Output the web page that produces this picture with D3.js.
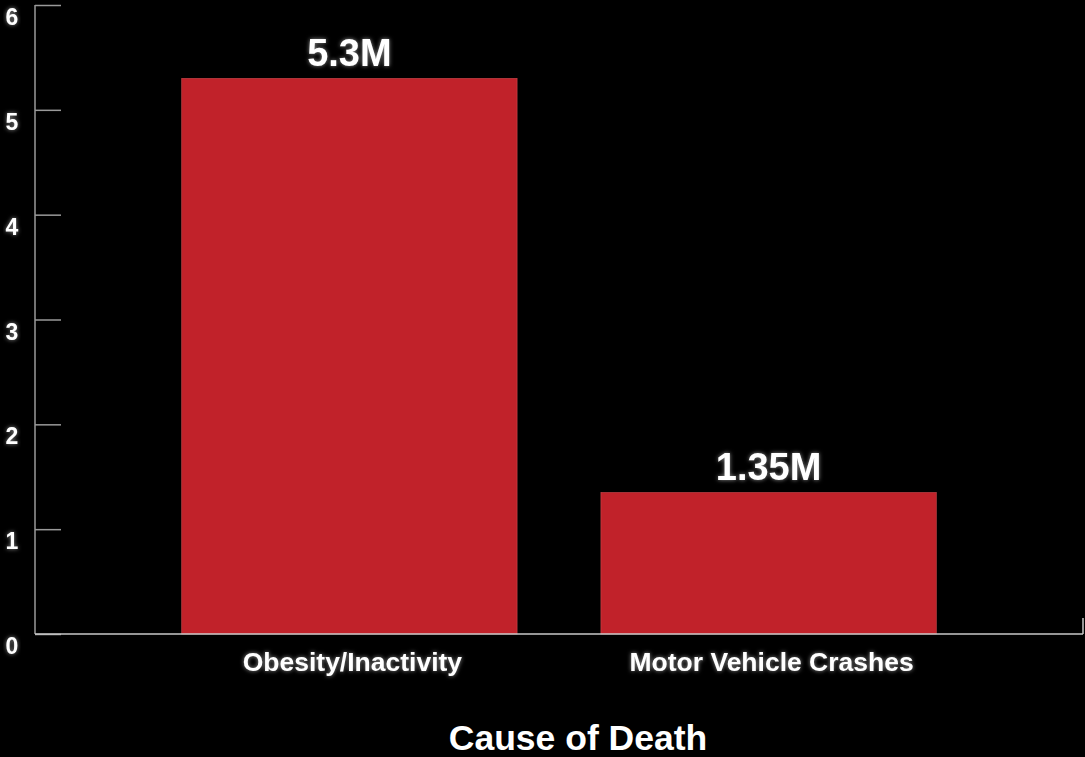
<!DOCTYPE html>
<html><head><meta charset="utf-8">
<script src="https://cdn.jsdelivr.net/npm/d3@7"></script>
<style>
html,body{margin:0;padding:0;background:#000;}
svg{display:block;}
text{font-family:"Liberation Sans",Arial,sans-serif;font-weight:bold;fill:#fff;}
</style></head><body>
<svg id="c" width="1085" height="757"></svg>
<script>
const categories = ["Obesity/Inactivity", "Motor Vehicle Crashes"];
const values = [5.3, 1.35];
const valueLabels = ["5.3M", "1.35M"];
const yTicks = [0, 1, 2, 3, 4, 5, 6];
const xTitle = "Cause of Death";

const svg = d3.select("#c");
const defs = svg.append("defs");
const f = defs.append("filter").attr("id","glow").attr("x","-20%").attr("y","-40%").attr("width","140%").attr("height","180%");
f.append("feGaussianBlur").attr("in","SourceAlpha").attr("stdDeviation",2).attr("result","b");
f.append("feFlood").attr("flood-color","#fff").attr("flood-opacity",0.55);
f.append("feComposite").attr("in2","b").attr("operator","in").attr("result","g");
const m = f.append("feMerge");
m.append("feMergeNode").attr("in","g");
m.append("feMergeNode").attr("in","SourceGraphic");

const x0 = 35, x1 = 1083, yTop = 5, yBot = 634;
const x = d3.scaleBand().domain(categories).range([x0, x1]).paddingInner(0.2).paddingOuter(0.35);
const y = d3.scaleLinear().domain([0, 6]).range([yBot, yTop]);

// bars
svg.append("g").selectAll("rect").data(categories).join("rect")
  .attr("x", d => x(d)).attr("width", x.bandwidth())
  .attr("y", (d,i) => y(values[i])).attr("height", (d,i) => y(0) - y(values[i]))
  .attr("fill", "#c1222a").attr("stroke","#d04a4f").attr("stroke-width",0.6);

// y axis
const gy = svg.append("g").attr("transform", `translate(${x0},0)`)
  .call(d3.axisRight(y).tickValues(yTicks).tickSize(26).tickFormat(""));
gy.select(".domain").remove();
gy.selectAll("line").attr("stroke","#9a9a9a").attr("stroke-width",1.5);
svg.append("line").attr("x1",x0).attr("x2",x0).attr("y1",y(6)).attr("y2",y(0)).attr("stroke","#9a9a9a").attr("stroke-width",1.5);
svg.append("g").selectAll("text").data(yTicks).join("text")
  .attr("x", 12).attr("y", d => y(d) + 20)
  .attr("text-anchor","middle").attr("font-size",23).attr("filter","url(#glow)")
  .text(d => d);

// x axis
svg.append("line").attr("x1",x0).attr("x2",x1).attr("y1",yBot).attr("y2",yBot).attr("stroke","#c8c8c8").attr("stroke-width",1.5);
svg.append("line").attr("x1",x1).attr("x2",x1).attr("y1",yBot).attr("y2",yBot-16).attr("stroke","#c8c8c8").attr("stroke-width",1.5);
svg.append("g").selectAll("text").data(categories).join("text")
  .attr("x", d => x(d) + x.bandwidth()/2 + 3).attr("y", 671)
  .attr("text-anchor","middle").attr("font-size",26.5).attr("filter","url(#glow)")
  .text(d => d);

// value labels
svg.append("g").selectAll("text").data(categories).join("text")
  .attr("x", d => x(d) + x.bandwidth()/2).attr("y", (d,i) => y(values[i]) - 12)
  .attr("text-anchor","middle").attr("font-size",38).attr("filter","url(#glow)")
  .text((d,i) => valueLabels[i]);

svg.append("text").attr("x", 578).attr("y", 750).attr("text-anchor","middle")
  .attr("font-size",35.5).text(xTitle);
</script></body></html>
